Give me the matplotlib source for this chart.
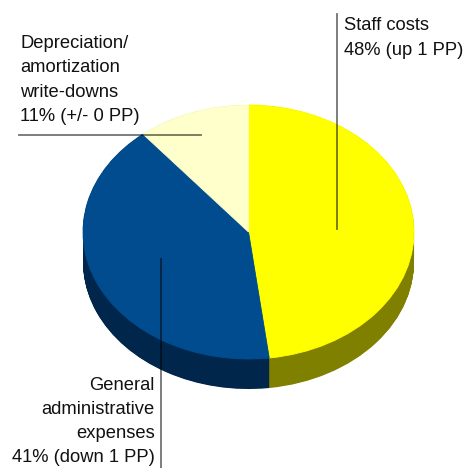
import matplotlib.pyplot as plt
from matplotlib.transforms import Affine2D

# Cost breakdown (share of total, %)
categories = ["Staff costs", "General administrative expenses", "Depreciation/amortization write-downs"]
shares = [48, 41, 11]
labels = [
    ["Staff costs", "48% (up 1 PP)"],
    ["General", "administrative", "expenses", "41% (down 1 PP)"],
    ["Depreciation/", "amortization", "write-downs", "11% (+/- 0 PP)"],
]
top_colors = ["#ffff00", "#004c8f", "#ffffcc"]
side_colors = ["#808000", "#00274b", "#808066"]

plt.rcParams['font.family'] = ['Liberation Sans', 'DejaVu Sans']

W, H = 466, 468
fig = plt.figure(figsize=(W / 100, H / 100), dpi=100)
ax = fig.add_axes([0, 0, 1, 1])

# ellipse geometry (pixels)
cx, cy = 248.5, 232
rx, ry = 165.5, 127
depth = 30


def draw_pie(colors, dy, seam=False):
    wedges, _ = ax.pie(shares, colors=colors, startangle=90, counterclock=False,
                       radius=1, center=(0, 0), frame=False,
                       wedgeprops=dict(linewidth=0, antialiased=True))
    tr = Affine2D().scale(rx, -ry).translate(cx, cy + dy) + ax.transData
    for w, c in zip(wedges, colors):
        w.set_transform(tr)
        if seam:
            w.set_edgecolor(c)
            w.set_linewidth(0.6)
    return wedges


# side of the pie: stacked darker layers
steps = 60
for i in range(steps + 1):
    draw_pie(side_colors, depth * (steps - i) / steps)
# top face
draw_pie(top_colors, 0, seam=True)

# pie() resets the limits / aspect
ax.set_xlim(0, W)
ax.set_ylim(H, 0)
ax.set_aspect('auto')
ax.axis('off')

line_kw = dict(color='black', alpha=0.55, lw=1.3)
ax.plot([337, 337], [14, 229], **line_kw)
ax.plot([19, 201], [135, 135], **line_kw)
ax.plot([160.5, 160.5], [259, 468], **line_kw)

fs = 13.2
step = 24.3
text_kw = dict(fontsize=fs, va='center', color='#111111')
for k, line in enumerate(labels[0]):
    ax.text(344, 26 + k * step, line, ha='left', **text_kw)
for k, line in enumerate(labels[2]):
    ax.text(20, 43.5 + k * step, line, ha='left', **text_kw)
for k, line in enumerate(labels[1]):
    ax.text(155, 385 + k * step, line, ha='right', **text_kw)

fig.savefig("out.png", dpi=100)
